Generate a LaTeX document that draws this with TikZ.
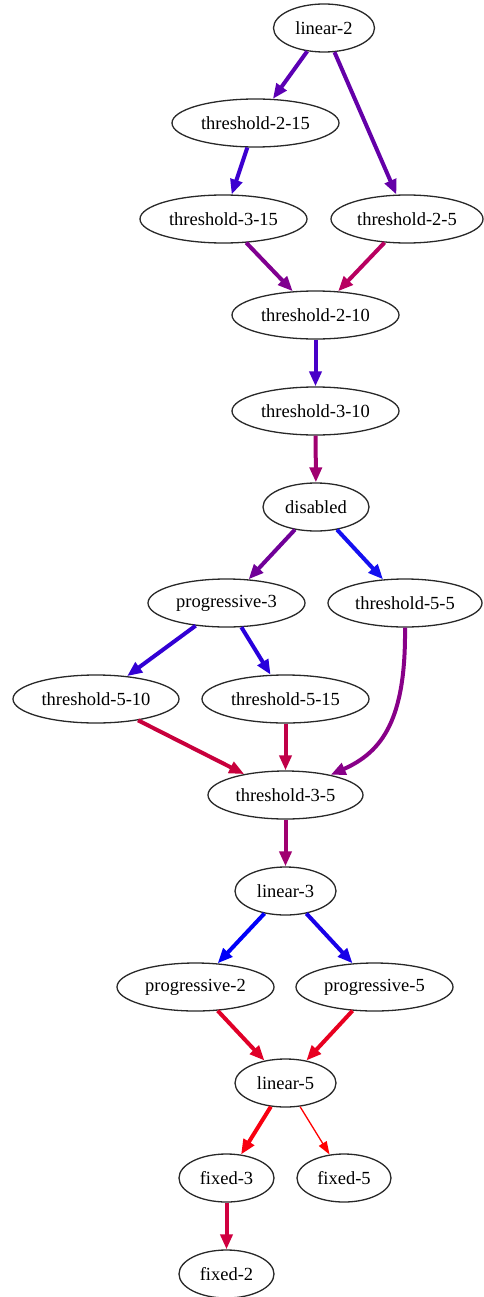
\documentclass[tikz,border=0pt]{standalone}
\usepackage{fontspec}
\setmainfont{Liberation Serif}
\usetikzlibrary{shapes.geometric,arrows.meta}
\tikzset{
  st/.style={ellipse, draw={rgb,255:red,40;green,40;blue,40}, line width=1.3pt, inner sep=0pt,
    minimum height=48pt, font=\fontsize{18.5}{22}\selectfont},
  wL/.style={st, minimum width=167pt},
  wM/.style={st, minimum width=155pt},
  wS/.style={st, minimum width=101pt},
  wF/.style={st, minimum width=95pt},
  ed/.style={line width=4pt, -{Triangle[length=15pt,width=12pt]}},
  thin edge/.style={line width=1.3pt, -{Triangle[length=13pt,width=9pt]}},
}
\begin{document}
\begin{tikzpicture}[x=1pt,y=-1pt]
\useasboundingbox (0,0) rectangle (483,1297);
\node[wS] (l2) at (324,28) {linear-2};
\node[wL] (t215) at (255.5,123) {threshold-2-15};
\node[wL] (t315) at (223.5,219) {threshold-3-15};
\node[wM, minimum width=152pt] (t25) at (407,219) {threshold-2-5};
\node[wL] (t210) at (315.5,315) {threshold-2-10};
\node[wL] (t310) at (315.5,411) {threshold-3-10};
\node[st, minimum width=106pt] (dis) at (316,507) {disabled};
\node[wM, minimum width=157pt] (p3) at (226.5,603) {progressive-3};
\node[wM, minimum width=154pt] (t55) at (405,603) {threshold-5-5};
\node[wL, minimum width=166pt] (t510) at (96,699) {threshold-5-10};
\node[wL] (t515) at (285.5,699) {threshold-5-15};
\node[wM] (t35) at (285.5,795) {threshold-3-5};
\node[wS] (l3) at (285.5,891) {linear-3};
\node[wM, minimum width=157pt] (p2) at (195.5,987) {progressive-2};
\node[wM, minimum width=157pt] (p5) at (374.5,987) {progressive-5};
\node[wS] (l5) at (285.5,1083) {linear-5};
\node[wF] (f3) at (226.5,1178) {fixed-3};
\node[wF, minimum width=94pt] (f5) at (344,1178) {fixed-5};
\node[wF] (f2) at (226.5,1274) {fixed-2};

\draw[ed, color={rgb,255:red,92;green,0;blue,180}] (l2) -- (t215);
\draw[ed, color={rgb,255:red,100;green,0;blue,168}] (l2) -- (t25);
\draw[ed, color={rgb,255:red,60;green,0;blue,208}] (t215) -- (t315);
\draw[ed, color={rgb,255:red,128;green,0;blue,144}] (t315) -- (t210);
\draw[ed, color={rgb,255:red,184;green,0;blue,96}] (t25) -- (t210);
\draw[ed, color={rgb,255:red,72;green,0;blue,200}] (t210) -- (t310);
\draw[ed, color={rgb,255:red,160;green,0;blue,112}] (t310) -- (dis);
\draw[ed, color={rgb,255:red,112;green,0;blue,152}] (dis) -- (p3);
\draw[ed, color={rgb,255:red,20;green,16;blue,240}] (dis) -- (t55);
\draw[ed, color={rgb,255:red,50;green,0;blue,212}] (p3) -- (t510);
\draw[ed, color={rgb,255:red,40;green,0;blue,220}] (p3) -- (t515);
\draw[ed, color={rgb,255:red,200;green,0;blue,60}] (t510) -- (t35);
\draw[ed, color={rgb,255:red,192;green,0;blue,72}] (t515) -- (t35);
\draw[ed, color={rgb,255:red,136;green,0;blue,136}] (t55.south) .. controls (406,720) and (382,752) .. (t35);
\draw[ed, color={rgb,255:red,160;green,0;blue,112}] (t35) -- (l3);
\draw[ed, color={rgb,255:red,0;green,0;blue,248}] (l3) -- (p2);
\draw[ed, color={rgb,255:red,24;green,0;blue,232}] (l3) -- (p5);
\draw[ed, color={rgb,255:red,224;green,0;blue,40}] (p2) -- (l5);
\draw[ed, color={rgb,255:red,232;green,0;blue,32}] (p5) -- (l5);
\draw[ed, color={rgb,255:red,248;green,0;blue,16}] (l5) -- (f3);
\draw[thin edge, color={rgb,255:red,255;green,0;blue,0}] (l5) -- (f5);
\draw[ed, color={rgb,255:red,208;green,0;blue,64}] (f3) -- (f2);
\end{tikzpicture}
\end{document}
